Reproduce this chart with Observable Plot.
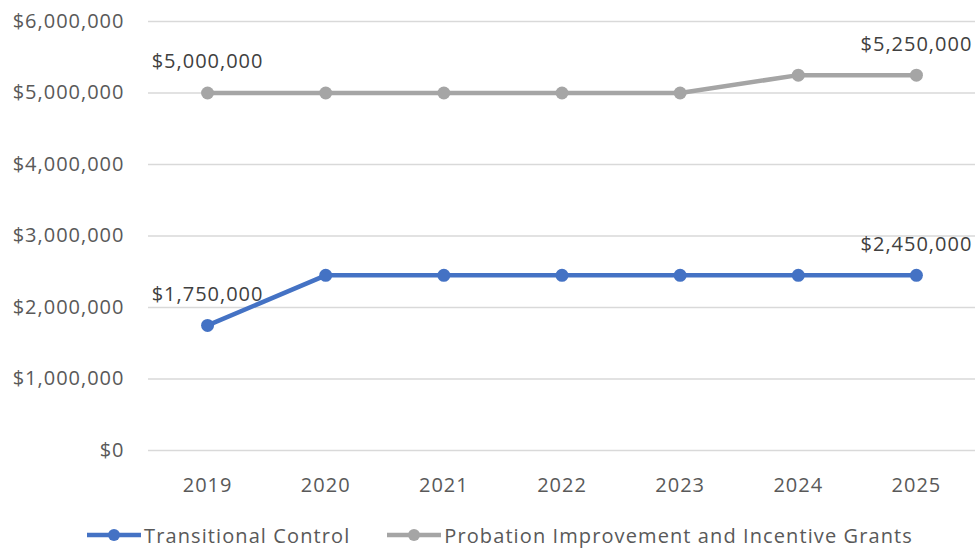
<!DOCTYPE html>
<html>
<head>
<meta charset="utf-8">
<script src="https://cdn.jsdelivr.net/npm/d3@7"></script>
<script src="https://cdn.jsdelivr.net/npm/@observablehq/plot@0.6"></script>
<style>
  html, body { margin: 0; padding: 0; background: #fff; }
  body { width: 979px; height: 552px; overflow: hidden; font-family: "Open Sans", sans-serif; color: #595959; }
  #chart svg text { letter-spacing: 1px; }
  #legend { display: flex; justify-content: center; align-items: center; gap: 36px; height: 70px; font-size: 20px; letter-spacing: 1.1px; margin-left: 20px; }
  .item { display: flex; align-items: center; gap: 2px; }
</style>
</head>
<body>
<div id="chart"></div>
<div id="legend"></div>
<script>
// Annual funding by program, 2019–2025
const years = [2019, 2020, 2021, 2022, 2023, 2024, 2025];
const transitionalControl = [1750000, 2450000, 2450000, 2450000, 2450000, 2450000, 2450000];
const probationGrants = [5000000, 5000000, 5000000, 5000000, 5000000, 5250000, 5250000];
const seriesNames = ["Transitional Control", "Probation Improvement and Incentive Grants"];
const seriesColors = ["#4472C4", "#A5A5A5"];
const yTicks = [0, 1000000, 2000000, 3000000, 4000000, 5000000, 6000000];

const rows = [];
[transitionalControl, probationGrants].forEach((vals, s) => {
  vals.forEach((v, i) => rows.push({series: seriesNames[s], year: years[i], value: v}));
});
// first and last value of each series are labelled
const labelled = rows.filter(d => d.year === years[0] || d.year === years[years.length - 1]);

const money = d3.format("$,");

const chart = Plot.plot({
  width: 979,
  height: 500,
  marginLeft: 148,
  marginRight: 4,
  marginTop: 21,
  marginBottom: 50,
  style: {fontFamily: "Open Sans, sans-serif", fontSize: "20px", color: "#595959", background: "#fff"},
  x: {type: "point", domain: years, padding: 0.5, round: false, tickSize: 0, tickPadding: 27, tickFormat: d => String(d), label: null},
  y: {domain: [0, 6000000], ticks: yTicks, tickSize: 0, tickPadding: 24, tickFormat: money, label: null},
  color: {domain: seriesNames, range: seriesColors},
  marks: [
    Plot.gridY(yTicks, {stroke: "#D9D9D9", strokeOpacity: 1, strokeWidth: 1.5}),
    Plot.line(rows, {x: "year", y: "value", z: "series", stroke: "series", strokeWidth: 4.5}),
    Plot.dot(rows, {x: "year", y: "value", fill: "series", r: 6.5}),
    Plot.text(labelled, {x: "year", y: "value", text: d => money(d.value), dy: -31, fill: "#404040", fontSize: 20})
  ]
});
document.getElementById("chart").appendChild(chart);

const legend = document.getElementById("legend");
seriesNames.forEach((name, i) => {
  const item = document.createElement("div");
  item.className = "item";
  item.innerHTML = `<svg width="56" height="14"><line x1="1" x2="55" y1="7" y2="7" stroke="${seriesColors[i]}" stroke-width="4.5"/><circle cx="28" cy="7" r="6" fill="${seriesColors[i]}"/></svg><span>${name}</span>`;
  legend.appendChild(item);
});
</script>
</body>
</html>
